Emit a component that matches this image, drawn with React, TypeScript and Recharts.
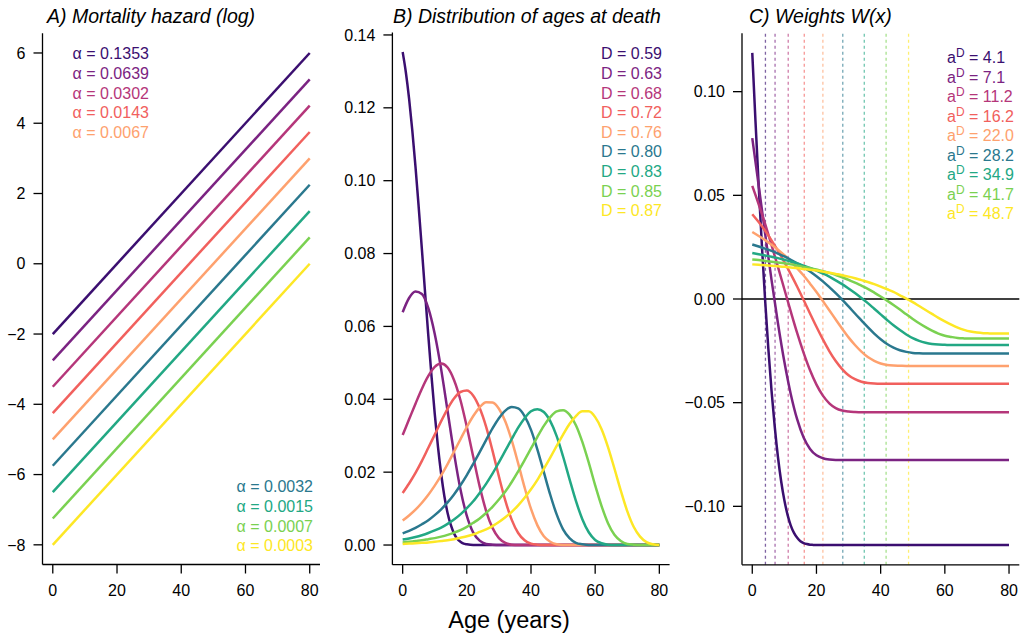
import React from 'react';
import { LineChart, Line, XAxis, YAxis, ReferenceLine } from 'recharts';

const FONT = '"Liberation Sans", Arial, Helvetica, sans-serif';

const colors = ['#3b0f70', '#7b2382', '#b5367a', '#f1605d', '#fea16e', '#2a788e', '#22a884', '#7ad151', '#fde725'];

const alphaLabels = ['0.1353', '0.0639', '0.0302', '0.0143', '0.0067', '0.0032', '0.0015', '0.0007', '0.0003'];
const dLabels = ['0.59', '0.63', '0.68', '0.72', '0.76', '0.80', '0.83', '0.85', '0.87'];
const aDValues = [4.1, 7.1, 11.2, 16.2, 22.0, 28.2, 34.9, 41.7, 48.7];
const aDLabels = ['4.1', '7.1', '11.2', '16.2', '22.0', '28.2', '34.9', '41.7', '48.7'];

// A) straight log-hazard lines, value at age 0 and at age 80
const hazardAges = [0, 80];
const logHazardAt0 = [-2, -2.75, -3.5, -4.25, -5, -5.75, -6.5, -7.25, -8];
const logHazardAt80 = [6, 5.25, 4.5, 3.75, 3, 2.25, 1.5, 0.75, 0];

const agesFine = [0, 1, 2, 3, 4, 5, 6, 7, 8, 9, 10, 11, 12, 13, 14, 15, 16, 17, 18, 19, 20,
  22, 24, 26, 28, 30, 32, 34, 36, 38, 40, 42, 44, 46, 48, 50, 52, 54, 56, 58, 60, 62, 64, 66, 68, 70, 72, 74, 76, 78, 80];
const ages = [0, 2, 4, 6, 8, 10, 12, 14, 16, 18, 20, 22, 24, 26, 28, 30, 32, 34, 36, 38, 40,
  42, 44, 46, 48, 50, 52, 54, 56, 58, 60, 62, 64, 66, 68, 70, 72, 74, 76, 78, 80];

// B) distribution of ages at death
const deaths1 = [0.1353, 0.1297, 0.1225, 0.1138, 0.1038, 0.0927, 0.0811, 0.0691, 0.0574, 0.0462, 0.0360,
  0.0270, 0.0195, 0.0134, 0.0088, 0.0055, 0.0032, 0.0017, 0.0009, 0.0004, 0.0002,
  0, 0, 0, 0, 0, 0, 0, 0, 0, 0, 0, 0, 0, 0, 0, 0, 0, 0, 0, 0, 0, 0, 0, 0, 0, 0, 0, 0, 0, 0];
const deaths2 = [0.0639, 0.0678, 0.0696, 0.0689, 0.0650, 0.0579, 0.0482, 0.0368, 0.0253, 0.0153, 0.0080,
  0.0034, 0.0012, 0.0003, 0.0001, 0, 0, 0, 0, 0, 0,
  0, 0, 0, 0, 0, 0, 0, 0, 0, 0, 0, 0, 0, 0, 0, 0, 0, 0, 0, 0];
const deaths3 = [0.0302, 0.0345, 0.0388, 0.0429, 0.0464, 0.0489, 0.0498, 0.0487, 0.0453, 0.0398, 0.0324,
  0.0242, 0.0161, 0.0094, 0.0047, 0.0019, 0.0006, 0.0001, 0, 0, 0,
  0, 0, 0, 0, 0, 0, 0, 0, 0, 0, 0, 0, 0, 0, 0, 0, 0, 0, 0, 0];
const deaths4 = [0.0143, 0.0169, 0.0198, 0.0231, 0.0267, 0.0303, 0.0340, 0.0374, 0.0402, 0.0420, 0.0424,
  0.0410, 0.0376, 0.0325, 0.0259, 0.0188, 0.0122, 0.0069, 0.0033, 0.0013, 0.0004,
  0.0001, 0, 0, 0, 0, 0, 0, 0, 0, 0, 0, 0, 0, 0, 0, 0, 0, 0, 0, 0];
const deaths5 = [0.0067, 0.0081, 0.0097, 0.0116, 0.0138, 0.0163, 0.0191, 0.0222, 0.0256, 0.0290, 0.0324,
  0.0354, 0.0378, 0.0392, 0.0391, 0.0374, 0.0339, 0.0287, 0.0224, 0.0158, 0.0099,
  0.0054, 0.0024, 0.0009, 0.0002, 0, 0, 0, 0, 0, 0, 0, 0, 0, 0, 0, 0, 0, 0, 0, 0];
const deaths6 = [0.0032, 0.0039, 0.0047, 0.0057, 0.0068, 0.0082, 0.0098, 0.0117, 0.0139, 0.0164, 0.0192,
  0.0223, 0.0255, 0.0288, 0.0320, 0.0348, 0.0369, 0.0379, 0.0375, 0.0354, 0.0316,
  0.0262, 0.0200, 0.0138, 0.0084, 0.0043, 0.0019, 0.0006, 0.0002, 0, 0, 0, 0, 0, 0, 0, 0, 0, 0, 0, 0];
const deaths7 = [0.0015, 0.0018, 0.0022, 0.0027, 0.0033, 0.0040, 0.0048, 0.0058, 0.0070, 0.0084, 0.0101,
  0.0120, 0.0143, 0.0168, 0.0196, 0.0227, 0.0259, 0.0291, 0.0322, 0.0348, 0.0367,
  0.0373, 0.0365, 0.0340, 0.0299, 0.0243, 0.0181, 0.0121, 0.0071, 0.0035, 0.0014,
  0.0005, 0.0001, 0, 0, 0, 0, 0, 0, 0, 0];
const deaths8 = [0.0007, 0.0009, 0.0011, 0.0013, 0.0016, 0.0019, 0.0023, 0.0028, 0.0034, 0.0041, 0.0050,
  0.0061, 0.0073, 0.0088, 0.0105, 0.0125, 0.0147, 0.0173, 0.0202, 0.0233, 0.0265,
  0.0297, 0.0327, 0.0351, 0.0367, 0.0370, 0.0358, 0.0329, 0.0283, 0.0226, 0.0164,
  0.0107, 0.0060, 0.0028, 0.0011, 0.0003, 0.0001, 0, 0, 0, 0];
const deaths9 = [0.0003, 0.0004, 0.0005, 0.0006, 0.0007, 0.0009, 0.0011, 0.0013, 0.0016, 0.0020, 0.0024,
  0.0029, 0.0036, 0.0043, 0.0052, 0.0063, 0.0076, 0.0091, 0.0109, 0.0130, 0.0153,
  0.0179, 0.0209, 0.0240, 0.0272, 0.0303, 0.0332, 0.0354, 0.0367, 0.0367, 0.0351,
  0.0318, 0.0269, 0.0210, 0.0149, 0.0093, 0.0050, 0.0023, 0.0008, 0.0002, 0];

// C) weights W(x)
const weights1 = [0.1187, 0.0858, 0.0546, 0.0258, -0.0005, -0.0238, -0.0442, -0.0616, -0.0762, -0.0879, -0.0971,
  -0.1041, -0.1093, -0.1128, -0.1152, -0.1168, -0.1177, -0.1182, -0.1185, -0.1186, -0.1187,
  -0.1187, -0.1187, -0.1187, -0.1187, -0.1187, -0.1187, -0.1187, -0.1187, -0.1187, -0.1187,
  -0.1187, -0.1187, -0.1187, -0.1187, -0.1187, -0.1187, -0.1187, -0.1187, -0.1187, -0.1187,
  -0.1187, -0.1187, -0.1187, -0.1187, -0.1187, -0.1187, -0.1187, -0.1187, -0.1187, -0.1187];
const weights2 = [0.0776, 0.0547, 0.0316, 0.0092, -0.0117, -0.0303, -0.0459, -0.0581, -0.0668, -0.0723, -0.0754,
  -0.0768, -0.0774, -0.0776, -0.0776, -0.0776, -0.0776, -0.0776, -0.0776, -0.0776, -0.0776,
  -0.0776, -0.0776, -0.0776, -0.0776, -0.0776, -0.0776, -0.0776, -0.0776, -0.0776, -0.0776,
  -0.0776, -0.0776, -0.0776, -0.0776, -0.0776, -0.0776, -0.0776, -0.0776, -0.0776, -0.0776];
const weights3 = [0.0546, 0.0457, 0.0362, 0.0260, 0.0155, 0.0047, -0.0061, -0.0165, -0.0260, -0.0344, -0.0413,
  -0.0466, -0.0503, -0.0526, -0.0538, -0.0543, -0.0545, -0.0546, -0.0546, -0.0546, -0.0546,
  -0.0546, -0.0546, -0.0546, -0.0546, -0.0546, -0.0546, -0.0546, -0.0546, -0.0546, -0.0546,
  -0.0546, -0.0546, -0.0546, -0.0546, -0.0546, -0.0546, -0.0546, -0.0546, -0.0546, -0.0546];
const weights4 = [0.0409, 0.0371, 0.0329, 0.0283, 0.0233, 0.0178, 0.0120, 0.0059, -0.0005, -0.0070, -0.0134,
  -0.0195, -0.0251, -0.0299, -0.0338, -0.0368, -0.0387, -0.0399, -0.0405, -0.0408, -0.0409,
  -0.0409, -0.0409, -0.0409, -0.0409, -0.0409, -0.0409, -0.0409, -0.0409, -0.0409, -0.0409,
  -0.0409, -0.0409, -0.0409, -0.0409, -0.0409, -0.0409, -0.0409, -0.0409, -0.0409, -0.0409];
const weights5 = [0.0323, 0.0304, 0.0284, 0.0262, 0.0238, 0.0211, 0.0181, 0.0148, 0.0113, 0.0074, 0.0034,
  -0.0010, -0.0054, -0.0099, -0.0143, -0.0185, -0.0222, -0.0254, -0.0280, -0.0298, -0.0311,
  -0.0318, -0.0321, -0.0322, -0.0323, -0.0323, -0.0323, -0.0323, -0.0323, -0.0323, -0.0323,
  -0.0323, -0.0323, -0.0323, -0.0323, -0.0323, -0.0323, -0.0323, -0.0323, -0.0323, -0.0323];
const weights6 = [0.0263, 0.0253, 0.0243, 0.0232, 0.0219, 0.0205, 0.0189, 0.0172, 0.0154, 0.0133, 0.0110,
  0.0085, 0.0057, 0.0028, -0.0003, -0.0036, -0.0070, -0.0103, -0.0136, -0.0167, -0.0194,
  -0.0217, -0.0234, -0.0247, -0.0255, -0.0260, -0.0262, -0.0263, -0.0263, -0.0263, -0.0263,
  -0.0263, -0.0263, -0.0263, -0.0263, -0.0263, -0.0263, -0.0263, -0.0263, -0.0263, -0.0263];
const weights7 = [0.0222, 0.0216, 0.0210, 0.0204, 0.0197, 0.0189, 0.0181, 0.0172, 0.0161, 0.0150, 0.0137,
  0.0123, 0.0108, 0.0090, 0.0072, 0.0051, 0.0029, 0.0005, -0.0020, -0.0047, -0.0074,
  -0.0101, -0.0127, -0.0150, -0.0171, -0.0189, -0.0202, -0.0211, -0.0217, -0.0220, -0.0221,
  -0.0222, -0.0222, -0.0222, -0.0222, -0.0222, -0.0222, -0.0222, -0.0222, -0.0222, -0.0222];
const weights8 = [0.0191, 0.0188, 0.0184, 0.0180, 0.0176, 0.0172, 0.0167, 0.0161, 0.0155, 0.0149, 0.0142,
  0.0134, 0.0126, 0.0116, 0.0105, 0.0092, 0.0079, 0.0064, 0.0049, 0.0031, 0.0012,
  -0.0008, -0.0029, -0.0051, -0.0074, -0.0096, -0.0117, -0.0136, -0.0153, -0.0167, -0.0177,
  -0.0183, -0.0188, -0.0190, -0.0191, -0.0191, -0.0191, -0.0191, -0.0191, -0.0191, -0.0191];
const weights9 = [0.0167, 0.0165, 0.0163, 0.0160, 0.0158, 0.0155, 0.0152, 0.0149, 0.0145, 0.0141, 0.0137,
  0.0132, 0.0127, 0.0121, 0.0115, 0.0108, 0.0100, 0.0091, 0.0082, 0.0072, 0.0060,
  0.0047, 0.0034, 0.0018, 0.0002, -0.0015, -0.0034, -0.0053, -0.0072, -0.0091, -0.0108,
  -0.0124, -0.0138, -0.0149, -0.0157, -0.0162, -0.0165, -0.0166, -0.0167, -0.0167, -0.0167];

type Pt = { age: number; value: number };
const pts = (xs: number[], ys: number[]): Pt[] => xs.map((x, i) => ({ age: x, value: ys[i] }));

const hazardSeries = logHazardAt0.map((y0, i) => pts(hazardAges, [y0, logHazardAt80[i]]));
const deathSeries = [pts(agesFine, deaths1), pts(ages, deaths2), pts(ages, deaths3), pts(ages, deaths4), pts(ages, deaths5),
  pts(ages, deaths6), pts(ages, deaths7), pts(ages, deaths8), pts(ages, deaths9)];
const weightSeries = [pts(agesFine, weights1), pts(ages, weights2), pts(ages, weights3), pts(ages, weights4), pts(ages, weights5),
  pts(ages, weights6), pts(ages, weights7), pts(ages, weights8), pts(ages, weights9)];

const minus = (s: string) => s.replace('-', '\u2212');
const fmtInt = (v: number) => minus(String(v));
const fmt2 = (v: number) => minus(v.toFixed(2));

const axisStyle = { stroke: '#000', strokeWidth: 1.3 };
const tickStyle = { fill: '#000', fontSize: 16, fontFamily: FONT };

type PanelProps = {
  left: number;
  width: number;
  yWidth: number;
  top: number;
  bottom: number;
  right: number;
  domain: [number, number];
  ticks: number[];
  fmt: (v: number) => string;
  series: Pt[][];
  children?: React.ReactNode;
};

const Panel = ({ left, width, yWidth, top, bottom, right, domain, ticks, fmt, series, children }: PanelProps) => (
  <div style={{ position: 'absolute', left, top: 0 }}>
    <LineChart width={width} height={639} margin={{ top, right, bottom, left: 0 }}>
      <XAxis type="number" dataKey="age" domain={[-3.2, 83.2]} ticks={[0, 20, 40, 60, 80]} allowDataOverflow
        interval={0} height={40} tickSize={9} tickMargin={11} axisLine={axisStyle} tickLine={axisStyle} tick={tickStyle} />
      <YAxis type="number" domain={domain} ticks={ticks} allowDataOverflow interval={0} width={yWidth}
        tickSize={9} tickMargin={8} tickFormatter={fmt} axisLine={axisStyle} tickLine={axisStyle} tick={tickStyle} />
      {children}
      {series.map((d, i) => (
        <Line key={i} data={d} dataKey="value" type="monotone" stroke={colors[i]} strokeWidth={2.5}
          dot={false} activeDot={false} isAnimationActive={false} />
      ))}
    </LineChart>
  </div>
);

const App = () => (
  <div style={{ position: 'absolute', left: 0, top: 0, width: 1020, height: 639, background: '#fff', fontFamily: FONT }}>
    <Panel left={0} width={330} yWidth={42.5} top={33.3} bottom={34.5} right={10}
      domain={[-8.56, 6.56]} ticks={[-8, -6, -4, -2, 0, 2, 4, 6]} fmt={fmtInt} series={hazardSeries} />
    <Panel left={330} width={350} yWidth={62.4} top={32.4} bottom={34.3} right={10.4}
      domain={[-0.0054, 0.1407]} ticks={[0, 0.02, 0.04, 0.06, 0.08, 0.1, 0.12, 0.14]} fmt={fmt2} series={deathSeries} />
    <Panel left={680} width={340} yWidth={62} top={33.2} bottom={34.2} right={0.7}
      domain={[-0.1282, 0.1282]} ticks={[-0.1, -0.05, 0, 0.05, 0.1]} fmt={fmt2} series={weightSeries}>
      {aDValues.map((a, i) => (
        <ReferenceLine key={'v' + i} x={a} stroke={colors[i]} strokeOpacity={0.65} strokeWidth={1.3} strokeDasharray="3 3" />
      ))}
      <ReferenceLine y={0} stroke="#000" strokeWidth={1.3} />
    </Panel>

    <svg width={1020} height={639} style={{ position: 'absolute', left: 0, top: 0, pointerEvents: 'none' }}
      fontFamily={FONT}>
      <text x={47} y={23.3} fontSize={19.5} fontStyle="italic" fill="#000">A) Mortality hazard (log)</text>
      <text x={393} y={23.3} fontSize={19.5} fontStyle="italic" fill="#000">B) Distribution of ages at death</text>
      <text x={749} y={23.3} fontSize={19.5} fontStyle="italic" fill="#000">C) Weights W(x)</text>

      {alphaLabels.slice(0, 5).map((s, i) => (
        <text key={'at' + i} x={72.5} y={59.3 + 19.6 * i} fontSize={16} fill={colors[i]}>{'\u03b1 = ' + s}</text>
      ))}
      {alphaLabels.slice(5).map((s, i) => (
        <text key={'ab' + i} x={313} y={492.3 + 19.7 * i} fontSize={16} fill={colors[i + 5]} textAnchor="end">{'\u03b1 = ' + s}</text>
      ))}
      {dLabels.map((s, i) => (
        <text key={'d' + i} x={662} y={59.3 + 19.6 * i} fontSize={16} fill={colors[i]} textAnchor="end">{'D = ' + s}</text>
      ))}
      {aDLabels.map((s, i) => (
        <text key={'ad' + i} x={947} y={63 + 19.5 * i} fontSize={16} fill={colors[i]}>
          <tspan>a</tspan>
          <tspan dy={-6} fontSize={12}>D</tspan>
          <tspan dy={6}>{' = ' + s}</tspan>
        </text>
      ))}

      <text x={509} y={628} fontSize={23.5} fill="#000" textAnchor="middle">Age (years)</text>
    </svg>
  </div>
);

export default App;
